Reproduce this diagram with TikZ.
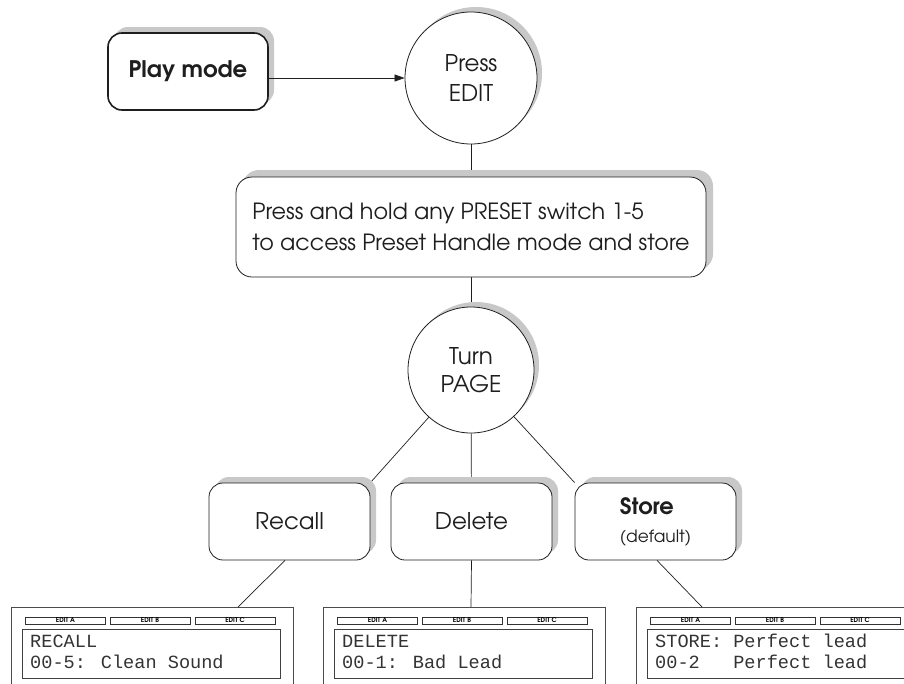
\documentclass[tikz,border=0pt]{standalone}
\usepackage{fontspec}
\newfontfamily\adv{TeX Gyre Adventor}
\newfontfamily\lcd{Liberation Mono}
\usetikzlibrary{shadows,backgrounds,arrows.meta}
\definecolor{ink}{HTML}{1E1E1E}
\definecolor{shade}{HTML}{C8C8C8}
\tikzset{
  shad/.style={drop shadow={shadow xshift=#1,shadow yshift=#1,fill=shade,opacity=1}},
  rbox/.style={draw=ink, fill=white, rounded corners=14pt, line width=0.8pt,
    minimum width=161pt, minimum height=77pt, inner sep=0pt, align=center, shad=6pt,
    text=ink, font=\adv\fontsize{23}{28}\selectfont},
  circ/.style={circle, draw=ink, fill=white, line width=0.8pt, inner sep=0pt,
    align=center, shad=5pt, text=ink},
  conn/.style={draw=ink, line width=0.7pt},
  frame/.style={draw=black!70, line width=0.8pt},
  editbtn/.style={draw=black!80, line width=0.6pt, minimum width=80pt, minimum height=7pt,
    inner sep=0pt, font=\adv\bfseries\fontsize{6.5}{6.5}\selectfont},
  disp/.style={draw=black!75, line width=0.9pt},
  lcdtxt/.style={anchor=base west, inner sep=0pt, text=black!80, font=\lcd\fontsize{18.6}{20}\selectfont}
}
\newcommand\lcdpanel[5]{%
  \begin{scope}[shift={(#1,607)}]
    \draw[frame] (0,80) -- (0,0) -- (282,0) -- (282,80);
    \coordinate (#2top) at (#5,0);
    \node[editbtn] (#2a) at (54.5,13.5) {EDIT A};
    \node[editbtn] (#2b) at (139,13.5) {EDIT B};
    \node[editbtn] (#2c) at (224,13.5) {EDIT C};
    \draw[disp] (11.5,22) rectangle (269,71);
    \node[lcdtxt] (#2l1) at (19,40) {#3};
    \node[lcdtxt] (#2l2) at (19,61) {#4};
  \end{scope}}
\begin{document}
\begin{tikzpicture}[x=1pt,y=-1pt]
\path[use as bounding box] (0,0) rectangle (904,683);

\node[rbox, line width=1.6pt, minimum width=160pt, minimum height=77pt,
  font=\adv\bfseries\fontsize{22.8}{26}\selectfont] (play) at (188,71.5) {Play mode};
\node[circ, minimum size=132pt, font=\adv\fontsize{23}{30}\selectfont] (press) at (471,78) {Press\\EDIT};
\node[rbox, minimum width=470pt, minimum height=100pt, rounded corners=16pt, shad=7pt,
  align=left, font=\adv\fontsize{22.3}{31}\selectfont] (hold) at (471,227)
  {Press and hold any PRESET switch 1-5\\to access Preset Handle mode and store};
\node[circ, minimum size=126pt, font=\adv\fontsize{23}{28}\selectfont] (turn) at (471,370) {Turn\\PAGE};
\node[rbox] (recall) at (289.5,521.5) {Recall};
\node[rbox] (delete) at (471.5,521.5) {Delete};
\node[rbox, align=left] (store) at (655.5,521.5)
  {{\bfseries\fontsize{22.5}{24}\selectfont Store}\\{\fontsize{17}{22}\selectfont (default)}};

\lcdpanel{11}{pa}{RECALL}{00-5: Clean Sound}{227}
\lcdpanel{323}{pb}{DELETE}{00-1: Bad Lead}{148}
\lcdpanel{636}{pc}{STORE: Perfect lead}{00-2~~~Perfect lead}{66}

\draw[conn, -{Triangle[length=10pt,width=7pt]}] (play.east |- press.west) -- (press.west);
\begin{pgfonlayer}{background}
  \draw[conn] (press) -- (hold);
  \draw[conn] (hold) -- (turn);
  \draw[conn] (turn) -- (recall.north east);
  \draw[conn] (turn) -- (delete);
  \draw[conn] (turn) -- (store.north west);
\end{pgfonlayer}
\draw[conn] ([xshift=-4.5pt]recall.south) -- (patop);
\draw[conn] (delete.south) -- (pbtop);
\draw[conn] ([xshift=1.5pt]store.south) -- (pctop);
\end{tikzpicture}
\end{document}
